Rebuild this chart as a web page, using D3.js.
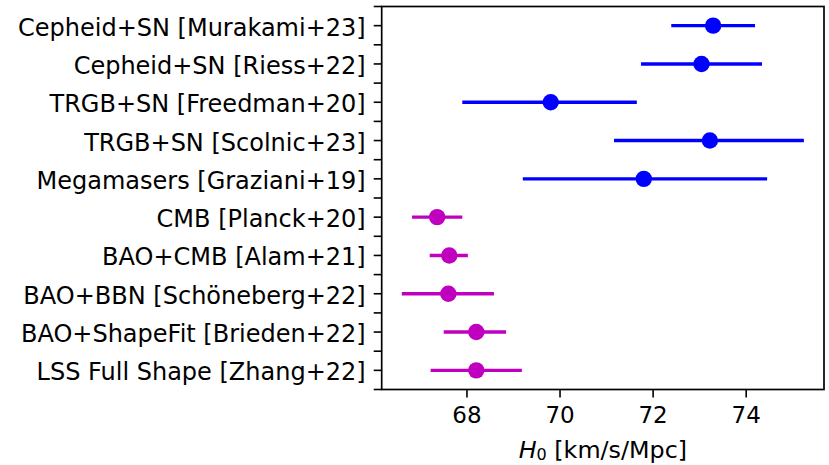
<!DOCTYPE html>
<html>
<head>
<meta charset="utf-8">
<script src="https://cdn.jsdelivr.net/npm/d3@7/dist/d3.min.js"></script>
<style>
  html, body { margin: 0; padding: 0; background: #fff; }
  svg { display: block; }
  text { font-family: "DejaVu Sans", sans-serif; fill: #000; }
</style>
</head>
<body>
<svg id="chart" width="829" height="465"></svg>
<script>
// Hubble constant measurements, top row first
const labels = [
  "Cepheid+SN [Murakami+23]",
  "Cepheid+SN [Riess+22]",
  "TRGB+SN [Freedman+20]",
  "TRGB+SN [Scolnic+23]",
  "Megamasers [Graziani+19]",
  "CMB [Planck+20]",
  "BAO+CMB [Alam+21]",
  "BAO+BBN [Schöneberg+22]",
  "BAO+ShapeFit [Brieden+22]",
  "LSS Full Shape [Zhang+22]"
];
const h0     = [73.29, 73.04, 69.80, 73.22, 71.80, 67.36, 67.62, 67.60, 68.20, 68.20];
const errLow = [0.90, 1.30, 1.90, 2.06, 2.60, 0.54, 0.42, 1.00, 0.70, 0.98];
const errHigh= [0.90, 1.30, 1.85, 2.02, 2.65, 0.54, 0.40, 0.98, 0.64, 0.98];
// late-universe (distance ladder) vs early-universe probes
const group  = ["late", "late", "late", "late", "late", "early", "early", "early", "early", "early"];
const xTicks = [68, 70, 72, 74];

const colors = { late: "#0000ff", early: "#bf00bf" };

const rows = labels.map((label, i) => ({
  label, i, value: h0[i], lo: h0[i] - errLow[i], hi: h0[i] + errHigh[i], group: group[i]
}));

const plotLeft = 381.7, plotRight = 824, plotTop = 6.5, plotBottom = 389.5;
const labelSize = 24, tickSize = 23, tickLen = 8;

// x limits: data extent with a 5% margin on either side
const xmin = d3.min(rows, d => d.lo), xmax = d3.max(rows, d => d.hi);
const pad = (xmax - xmin) * 0.05;
const x = d3.scaleLinear().domain([xmin - pad, xmax + pad]).range([plotLeft, plotRight]);
const y = d3.scaleLinear().domain([-0.5, labels.length - 0.5]).range([plotTop, plotBottom]);

const svg = d3.select("#chart");

// error bars
const marks = svg.append("g");
marks.selectAll("line.err").data(rows).join("line")
  .attr("class", "err")
  .attr("x1", d => x(d.lo)).attr("x2", d => x(d.hi))
  .attr("y1", d => y(d.i)).attr("y2", d => y(d.i))
  .attr("stroke", d => colors[d.group])
  .attr("stroke-width", 3.4);
marks.selectAll("circle").data(rows).join("circle")
  .attr("cx", d => x(d.value)).attr("cy", d => y(d.i))
  .attr("r", 8.2)
  .attr("fill", d => colors[d.group]);

// y axis: major ticks at each row, minor ticks between rows
const yAxis = svg.append("g");
const minor = d3.range(-0.5, labels.length, 1);
yAxis.selectAll("line.minor").data(minor).join("line")
  .attr("class", "minor")
  .attr("x1", plotLeft - tickLen).attr("x2", plotLeft)
  .attr("y1", d => y(d)).attr("y2", d => y(d))
  .attr("stroke", "#000").attr("stroke-width", 1.6);
yAxis.selectAll("line.major").data(rows).join("line")
  .attr("class", "major")
  .attr("x1", plotLeft - tickLen).attr("x2", plotLeft)
  .attr("y1", d => y(d.i)).attr("y2", d => y(d.i))
  .attr("stroke", "#000").attr("stroke-width", 1.6);
yAxis.selectAll("text").data(rows).join("text")
  .attr("x", plotLeft - tickLen - 8)
  .attr("y", d => y(d.i) + 10)
  .attr("text-anchor", "end")
  .attr("font-size", labelSize)
  .text(d => d.label);

// x axis
const xAxis = svg.append("g");
xAxis.selectAll("line").data(xTicks).join("line")
  .attr("x1", d => x(d)).attr("x2", d => x(d))
  .attr("y1", plotBottom).attr("y2", plotBottom + tickLen)
  .attr("stroke", "#000").attr("stroke-width", 1.6);
xAxis.selectAll("text").data(xTicks).join("text")
  .attr("x", d => x(d))
  .attr("y", plotBottom + 33)
  .attr("text-anchor", "middle")
  .attr("font-size", tickSize)
  .text(d => d);

// axis title: H_0 [km/s/Mpc]
const title = svg.append("text")
  .attr("x", (plotLeft + plotRight) / 2)
  .attr("y", 457.5)
  .attr("text-anchor", "middle")
  .attr("font-size", 23.8);
title.append("tspan").attr("font-style", "italic").text("H");
title.append("tspan").attr("font-size", 16).attr("dy", 2).text("0");
title.append("tspan").attr("dy", -2).text(" [km/s/Mpc]");

// frame
svg.append("rect")
  .attr("x", plotLeft).attr("y", plotTop)
  .attr("width", plotRight - plotLeft).attr("height", plotBottom - plotTop)
  .attr("fill", "none").attr("stroke", "#000").attr("stroke-width", 1.7);
</script>
</body>
</html>
